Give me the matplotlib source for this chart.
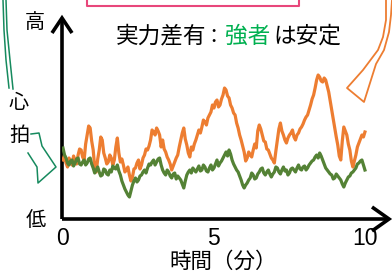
import numpy as np
import matplotlib
matplotlib.use('Agg')
import matplotlib.pyplot as plt

plt.rcParams['font.family'] = ['Noto Sans CJK JP', 'DejaVu Sans']

# heart rate (arbitrary units), one sample every 0.05 min
strong = [71, 64, 61, 56, 54, 58, 59, 53, 56, 60, 61, 55, 54, 57, 59, 54, 56, 60, 61, 55,
          51, 46, 49, 52, 47, 43, 44, 50, 49, 45, 44, 49, 47, 53, 51, 50, 54, 48, 44, 38,
          34, 30, 27, 24, 22, 28, 34, 38, 41, 37, 39, 43, 44, 47, 49, 46, 51, 55, 54, 57,
          59, 54, 57, 60, 61, 54, 49, 46, 44, 49, 47, 43, 41, 45, 46, 40, 43, 41, 39, 35,
          31, 38, 44, 47, 49, 46, 51, 49, 47, 50, 53, 48, 49, 54, 52, 48, 47, 51, 54, 49,
          51, 55, 59, 53, 56, 58, 61, 64, 67, 63, 69, 65, 59, 55, 52, 49, 47, 43, 39, 34,
          31, 34, 36, 39, 41, 46, 44, 40, 41, 45, 47, 50, 51, 46, 44, 47, 49, 45, 42, 45,
          47, 52, 51, 47, 45, 49, 52, 48, 49, 44, 46, 50, 51, 49, 47, 51, 54, 50, 49, 52,
          53, 49, 51, 54, 56, 58, 59, 62, 64, 61, 66, 63, 59, 55, 51, 49, 47, 45, 44, 40,
          41, 45, 43, 41, 39, 35, 32, 36, 39, 42, 43, 46, 47, 49, 51, 55, 56, 58, 59, 54,
          49]
weak = [59, 64, 56, 52, 61, 57, 54, 63, 59, 55, 64, 70, 69, 62, 59, 75, 84, 93, 91, 78,
        69, 52, 47, 60, 69, 82, 79, 66, 61, 55, 57, 64, 61, 54, 59, 72, 81, 66, 57, 60,
        54, 47, 49, 52, 44, 38, 42, 50, 51, 56, 59, 50, 54, 61, 64, 70, 69, 73, 79, 89,
        87, 84, 91, 88, 84, 72, 79, 70, 67, 62, 59, 55, 49, 53, 57, 61, 64, 72, 79, 86,
        91, 80, 74, 66, 62, 72, 69, 75, 79, 84, 89, 86, 92, 99, 97, 94, 101, 104, 107, 114,
        111, 117, 119, 112, 114, 120, 124, 131, 129, 123, 121, 114, 111, 106, 104, 96, 91, 84, 79, 73,
        67, 58, 61, 67, 64, 62, 69, 75, 71, 88, 94, 90, 84, 78, 77, 70, 69, 65, 61, 59,
        56, 68, 79, 90, 96, 88, 84, 79, 76, 81, 84, 86, 89, 82, 79, 84, 86, 90, 92, 95,
        99, 102, 104, 109, 114, 120, 124, 131, 139, 144, 142, 138, 137, 141, 139, 133, 127, 118, 109, 100,
        91, 82, 74, 63, 59, 78, 92, 88, 84, 75, 69, 58, 52, 58, 64, 72, 76, 80, 84, 82,
        87]
minutes = np.arange(len(strong)) * 0.05
xticks = [0, 5, 10]

W, H = 392, 275
fig = plt.figure(figsize=(W / 100, H / 100), dpi=100)

# overlay in pixel coords for the decorations
deco = fig.add_axes([0, 0, 1, 1])
deco.set_xlim(0, W)
deco.set_ylim(H, 0)
deco.axis('off')

# data axes
ax = fig.add_axes([62 / W, (H - 219) / H, (390 - 62) / W, (219 - 17) / H])
ax.set_xlim(-0.033, 10.83)
ax.set_ylim(0, 202)
ax.patch.set_alpha(0)
for s in ax.spines.values():
    s.set_visible(False)
ax.plot(minutes, weak, color='#ED7D31', lw=2.3)
ax.plot(minutes, strong, color='#548235', lw=2.3)
ax.set_yticks([])
ax.set_xticks(xticks)
ax.set_xticklabels([str(t) for t in xticks], family='Liberation Sans', fontsize=16.5)
ax.tick_params(axis='x', length=0, pad=6)

# axis arrows
k = dict(color='black', lw=2.6, solid_capstyle='butt', solid_joinstyle='miter')
deco.plot([62, 62], [18, 219], **k)
deco.plot([62, 389], [219, 219], **k)
deco.plot([52, 62, 72], [33, 18, 33], **k)
deco.plot([372, 389, 372], [207, 219, 231], **k)

# pink frame at top
deco.plot([87, 87, 299, 299], [-5, 6, 6, -5], color='#E8477B', lw=1.5)

# green outline arrow on the left
g = dict(color='#168A5E', lw=1.1)
deco.plot([3, 4, 6, 9], [0, 30, 60, 88], **g)
deco.plot([6, 7, 10, 13], [0, 30, 60, 89], **g)
deco.plot([31, 39, 42, 56, 38, 37, 28], [134, 133, 146, 167, 183, 167, 153], **g)

# orange outline arrow on the right
o = dict(color='#ED7D31', lw=1.3)
deco.plot([386, 386, 383, 378, 372, 363, 347, 364, 376, 384, 389, 391, 392],
          [0, 20, 37, 50, 58, 70, 88, 102, 64, 50, 32, 15, 0], **o)

# texts
deco.text(35, 22, '高', fontsize=14.5, ha='center', va='center')
deco.text(19, 103, '心', fontsize=14.5, ha='center', va='center')
deco.text(19, 135, '拍', fontsize=14.5, ha='center', va='center')
deco.text(36, 221, '低', fontsize=14.5, ha='center', va='center')
deco.text(223, 262, '時間（分）', fontsize=15.5, ha='center', va='center')
deco.text(116, 36, '実力差有', fontsize=16.3, ha='left', va='center')
deco.text(214, 36, ':', fontsize=16.3, ha='center', va='center')
deco.text(225, 36, '強者', fontsize=16.3, ha='left', va='center', color='#00B050')
deco.text(273, 36, 'は安定', fontsize=16.3, ha='left', va='center')

fig.savefig('out.png', dpi=100)
